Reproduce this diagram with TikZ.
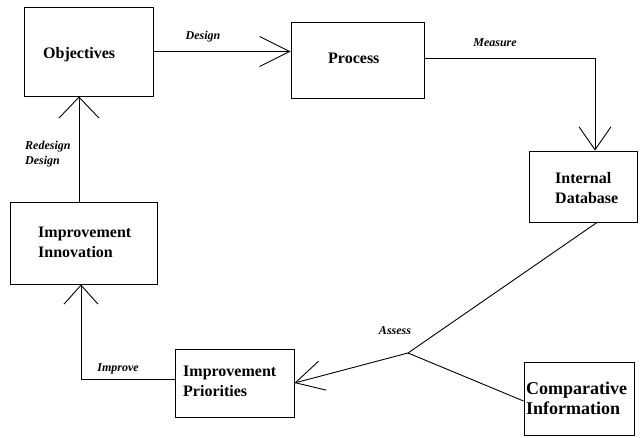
\documentclass[tikz,border=0pt]{standalone}
\usepackage{fontspec}
\setmainfont{Liberation Serif}
\usetikzlibrary{arrows.meta}
\begin{document}
\begin{tikzpicture}[x=1pt,y=-1pt,
  box/.style={draw, line width=0.9pt, inner sep=0pt},
  txt/.style={anchor=west, inner sep=0pt, align=left,
    font=\fontsize{16}{20}\selectfont\bfseries},
  bigtxt/.style={anchor=west, inner sep=0pt, align=left,
    font=\fontsize{18}{20}\selectfont\bfseries},
  lab/.style={inner sep=0pt, align=left,
    font=\fontsize{12}{15}\selectfont\bfseries\itshape},
  conn/.style={draw, line width=0.9pt},
  barb/.style n args={2}{-{Straight Barb[length=#1pt,width=#2pt,line width=0.9pt]}}
]
\useasboundingbox (0,0) rectangle (640,437);

% boxes
\node[box, minimum width=129pt, minimum height=89pt] (obj) at (88.5,51.5) {};
\node[box, minimum width=133pt, minimum height=76pt] (proc) at (357.5,60) {};
\node[box, minimum width=108pt, minimum height=71pt] (idb) at (583,186.5) {};
\node[box, minimum width=147pt, minimum height=82pt] (innov) at (83.5,243) {};
\node[box, minimum width=119pt, minimum height=68pt] (prio) at (234.5,383) {};
\node[box, minimum width=110pt, minimum height=73pt] (comp) at (579,398.5) {};

% box texts
\node[txt] (objt) at (43,55) {Objectives};
\node[txt] (proct) at (328,58) {Process};
\node[txt] (idbt) at (555,188) {Internal\\Database};
\node[txt] (innovt) at (38,242) {Improvement\\Innovation};
\node[txt] (priot) at (183,381) {Improvement\\Priorities};
\node[bigtxt] (compt) at (526,398) {Comparative\\Information};

% connector labels
\node[lab] (ldesign) at (203,37) {Design};
\node[lab] (lmeasure) at (495,43) {Measure};
\node[lab, anchor=west] (lredesign) at (25,154.5) {Redesign\\Design};
\node[lab] (limprove) at (118,369) {Improve};
\node[lab] (lassess) at (395,331) {Assess};

% connectors
\draw[conn, barb={30}{30}] (obj.east) -- (obj.east -| proc.west);
\draw[conn, barb={23}{32}] ([yshift=2pt]proc.east) -| ([xshift=12pt]idb.north);
\draw[conn, barb={21}{40}] ([xshift=-4.5pt]innov.north) -- ([xshift=-4.5pt]innov.north |- obj.south);
\draw[conn, barb={19}{34}] ([yshift=4pt]prio.west) -| ([xshift=-2.5pt]innov.south);

\coordinate (j) at (408,353);
\draw[conn] ([xshift=14pt]idb.south) -- (j);
\draw[conn] (j) -- ([yshift=-2.5pt]comp.west);
\draw[conn, barb={28}{30}] (j) -- (prio.east);
\end{tikzpicture}
\end{document}
